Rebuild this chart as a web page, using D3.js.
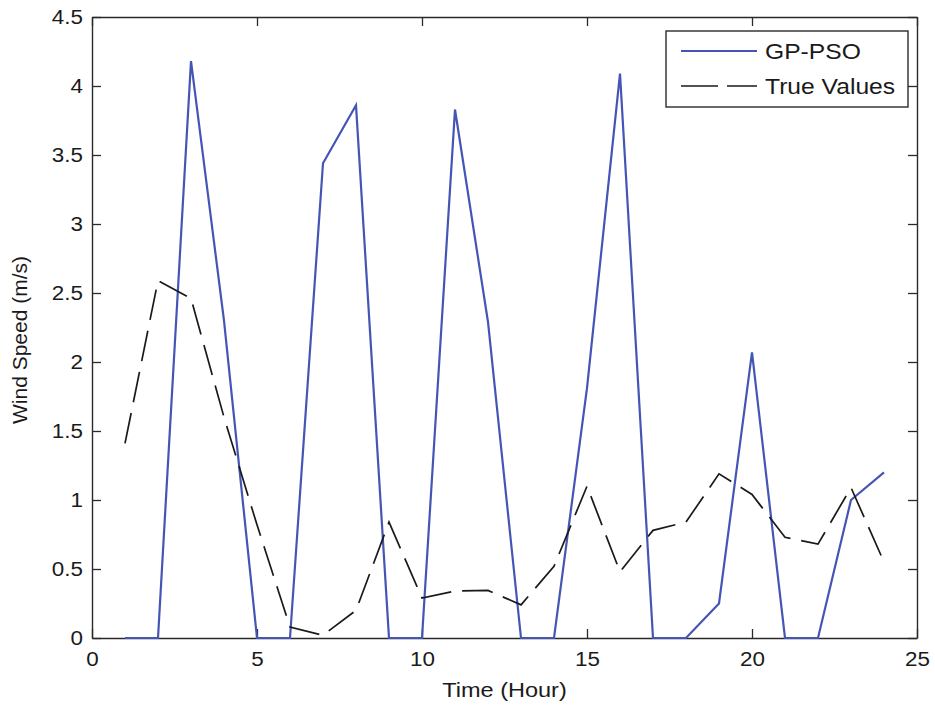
<!DOCTYPE html>
<html>
<head>
<meta charset="utf-8">
<script src="https://cdn.jsdelivr.net/npm/d3@7"></script>
<style>
  body { margin: 0; background: #fff; }
  svg text { font-family: "Liberation Sans", Arial, sans-serif; fill: #1a1a1a; }
</style>
</head>
<body>
<div id="container"></div>
<script>
var width = 935;
var height = 708;

// data
var hours = [1, 2, 3, 4, 5, 6, 7, 8, 9, 10, 11, 12, 13, 14, 15, 16, 17, 18, 19, 20, 21, 22, 23, 24];
var gpPso = [0, 0, 4.18, 2.30, 0, 0, 3.44, 3.86, 0, 0, 3.83, 2.29, 0, 0, 1.81, 4.09, 0, 0, 0.25, 2.07, 0, 0, 1.0, 1.2];
var trueValues = [1.41, 2.59, 2.46, 1.60, 0.82, 0.08, 0.02, 0.20, 0.84, 0.29, 0.34, 0.345, 0.24, 0.52, 1.10, 0.48, 0.78, 0.84, 1.19, 1.04, 0.73, 0.68, 1.09, 0.55];
var xTicks = [0, 5, 10, 15, 20, 25];
var yTicks = [0, 0.5, 1, 1.5, 2, 2.5, 3, 3.5, 4, 4.5];
var seriesNames = ["GP-PSO", "True Values"];

var margin = {left: 92, right: 18, top: 17, bottom: 70};
var plotW = width - margin.left - margin.right;
var plotH = height - margin.top - margin.bottom;

var svg = d3.select("div#container").append("svg")
    .attr("width", width)
    .attr("height", height);

var x = d3.scaleLinear().domain([0, 25]).range([0, plotW]);
var y = d3.scaleLinear().domain([0, 4.5]).range([plotH, 0]);

var g = svg.append("g")
    .attr("transform", "translate(" + margin.left + "," + margin.top + ")");

// axes, ticks pointing inwards like matlab
var fmt = d3.format("");
g.append("g")
    .attr("class", "axis")
    .attr("transform", "translate(0," + plotH + ")")
    .call(d3.axisBottom(x).tickValues(xTicks).tickFormat(fmt).tickSizeInner(-9).tickSizeOuter(0).tickPadding(14));
g.append("g")
    .attr("class", "axis")
    .call(d3.axisLeft(y).tickValues(yTicks).tickFormat(fmt).tickSizeInner(-9).tickSizeOuter(0).tickPadding(9));
g.append("g")
    .attr("class", "axis")
    .call(d3.axisTop(x).tickValues(xTicks).tickFormat("").tickSizeInner(-9).tickSizeOuter(0));
g.append("g")
    .attr("class", "axis")
    .attr("transform", "translate(" + plotW + ",0)")
    .call(d3.axisRight(y).tickValues(yTicks).tickFormat("").tickSizeInner(-9).tickSizeOuter(0));

g.selectAll(".axis path").attr("stroke", "#2a2a2a").attr("stroke-width", 1.4);
g.selectAll(".axis line").attr("stroke", "#2a2a2a").attr("stroke-width", 1.3);
g.selectAll(".axis text")
    .attr("class", "wide")
    .attr("font-size", 20)
    .style("font-family", "'Liberation Sans', Arial, sans-serif")
    .attr("fill", "#1a1a1a");

// lines
var line = d3.line()
    .x(function(d) { return x(d[0]); })
    .y(function(d) { return y(d[1]); });

g.append("path")
    .datum(hours.map(function(h, i) { return [h, gpPso[i]]; }))
    .attr("d", line)
    .attr("fill", "none")
    .attr("stroke", "#4555b5")
    .attr("stroke-width", 2.2);

g.append("path")
    .datum(hours.map(function(h, i) { return [h, trueValues[i]]; }))
    .attr("d", line)
    .attr("fill", "none")
    .attr("stroke", "#1a1a1a")
    .attr("stroke-width", 1.7)
    .attr("stroke-dasharray", "31,11");

// axis labels
svg.append("text")
    .attr("class", "wide")
    .attr("x", margin.left + plotW / 2)
    .attr("y", 697)
    .attr("text-anchor", "middle")
    .attr("font-size", 21)
    .text("Time (Hour)");

svg.append("text")
    .attr("transform", "translate(27," + 340 + ") rotate(-90)")
    .attr("text-anchor", "middle")
    .attr("font-size", 21)
    .text("Wind Speed (m/s)");

// legend
var legend = svg.append("g")
    .attr("transform", "translate(666,31)");
legend.append("rect")
    .attr("width", 242)
    .attr("height", 76)
    .attr("fill", "#fff")
    .attr("stroke", "#2a2a2a")
    .attr("stroke-width", 1.4);

var legendItems = legend.selectAll(".item")
    .data(seriesNames)
    .enter().append("g")
    .attr("class", "item")
    .attr("transform", function(d, i) { return "translate(0," + (20 + i * 35) + ")"; });

legendItems.append("line")
    .attr("x1", 15)
    .attr("x2", 91)
    .attr("stroke", function(d, i) { return i === 0 ? "#4555b5" : "#1a1a1a"; })
    .attr("stroke-width", function(d, i) { return i === 0 ? 2.2 : 1.7; })
    .attr("stroke-dasharray", function(d, i) { return i === 0 ? null : "37,9"; });

legendItems.append("text")
    .attr("class", "wide")
    .attr("x", 99)
    .attr("y", 8)
    .attr("font-size", 22)
    .text(function(d) { return d; });

// the source figure is a little stretched sideways, so widen the glyphs
svg.selectAll("text.wide").each(function() {
    var len = this.getComputedTextLength();
    d3.select(this)
        .attr("textLength", len * 1.12)
        .attr("lengthAdjust", "spacingAndGlyphs");
});
</script>
</body>
</html>
